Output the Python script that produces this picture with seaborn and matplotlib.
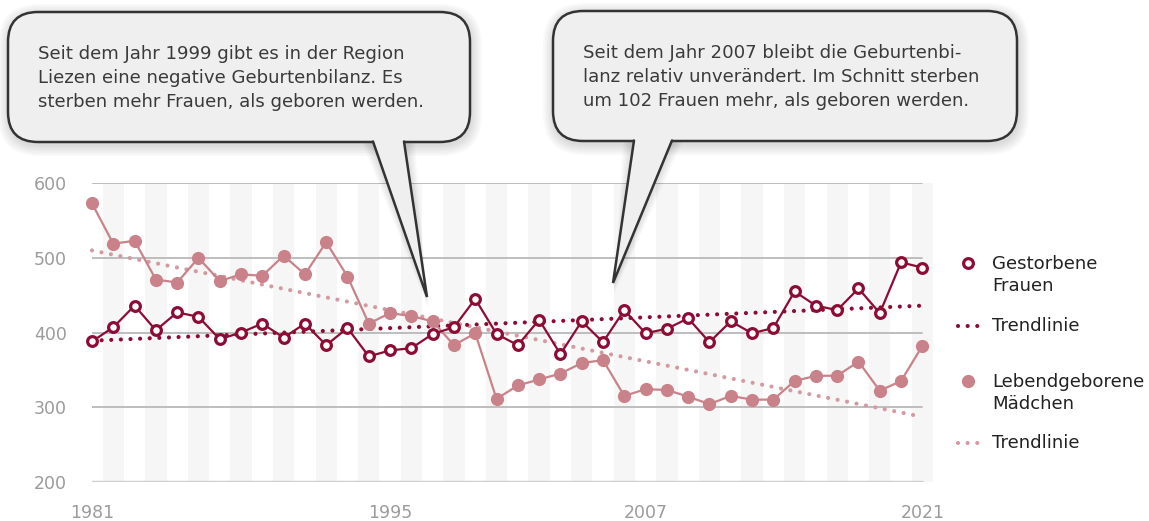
import numpy as np
import pandas as pd
import seaborn as sns
import matplotlib.pyplot as plt
from matplotlib.patches import FancyBboxPatch, Polygon

# Values, one point per year
tick_labels = ["1981", "1995", "2007", "2021"]
tick_index = [0, 14, 26, 39]
y_ticks = [200, 300, 400, 500, 600]

gestorbene_frauen = [388, 407, 436, 403, 427, 421, 391, 400, 412, 393,
                     412, 383, 406, 368, 376, 379, 398, 407, 445, 398,
                     383, 417, 371, 415, 387, 430, 399, 405, 419, 387,
                     415, 399, 406, 455, 436, 430, 459, 426, 494, 487]
lebendgeborene_maedchen = [573, 519, 523, 471, 467, 500, 469, 478, 476, 503,
                           478, 521, 475, 412, 426, 422, 415, 383, 399, 311,
                           329, 337, 345, 359, 363, 315, 324, 323, 314, 304,
                           315, 310, 310, 335, 342, 342, 361, 322, 335, 382]
# trend lines: start / end value
trend_frauen = [389, 436]
trend_maedchen = [510, 287]

text_links = ("Seit dem Jahr 1999 gibt es in der Region\n"
              "Liezen eine negative Geburtenbilanz. Es\n"
              "sterben mehr Frauen, als geboren werden.")
text_rechts = ("Seit dem Jahr 2007 bleibt die Geburtenbi-\n"
               "lanz relativ unverändert. Im Schnitt sterben\n"
               "um 102 Frauen mehr, als geboren werden.")

DARK = "#8c0c35"
PINK = "#c9828a"
PINK_TREND = "#d39aa1"
GREY = "#9b9b9b"
FS = 13.1

df = pd.DataFrame({
    "idx": np.arange(len(gestorbene_frauen)),
    "frauen": gestorbene_frauen,
    "maedchen": lebendgeborene_maedchen,
})
n = len(df)
trend_x = [0, n - 1]

sns.set_theme(style="white")
plt.rcParams["font.family"] = ["DejaVu Sans"]

W, H = 1149, 521
fig = plt.figure(figsize=(W / 100, H / 100), dpi=100)

# main axes: pixel box x 92..933, y 183..482
left, right, top, bottom = 92, 933, 183.3, 481.7
ax = fig.add_axes([left / W, 1 - bottom / H, (right - left) / W, (bottom - top) / H])
ax.set_xlim(0, n - 0.5)
ax.set_ylim(200, 600)

# alternating stripes
for i in range(1, n, 2):
    ax.axvspan(i - 0.5, i + 0.5, color="#f6f6f6", zorder=0, lw=0)

# grid lines
for v in y_ticks[1:]:
    ax.axhline(v, xmin=0, xmax=(n - 1) / (n - 0.5), color="#b3b3b3", lw=1.2, zorder=1)
ax.axhline(200, xmin=0, xmax=(n - 1) / (n - 0.5), color="#d0d0d0", lw=2.5, zorder=1)

dots = (0, (0.01, 2.3))
sns.lineplot(x=trend_x, y=trend_maedchen, ax=ax, color=PINK_TREND, lw=3,
             linestyle=dots, dash_capstyle="round", zorder=2, clip_on=False)
sns.lineplot(x=trend_x, y=trend_frauen, ax=ax, color=DARK, lw=3,
             linestyle=dots, dash_capstyle="round", zorder=3, clip_on=False)

sns.lineplot(data=df, x="idx", y="maedchen", ax=ax, color=PINK, lw=1.6,
             marker="o", ms=9.5, mec=PINK, mew=0, zorder=4, clip_on=False)
sns.lineplot(data=df, x="idx", y="frauen", ax=ax, color=DARK, lw=1.6,
             marker="o", ms=7, mfc="white", mec=DARK, mew=2.3, zorder=5, clip_on=False)

sns.despine(ax=ax, left=True, bottom=True)
ax.set_xlabel("")
ax.set_ylabel("")
ax.set_xticks(tick_index, tick_labels)
ax.set_yticks(y_ticks)
ax.tick_params(axis="both", length=0, labelsize=12.5, labelcolor=GREY)
ax.tick_params(axis="y", pad=18)
ax.tick_params(axis="x", pad=16)

# overlay in pixel coordinates for callouts and legend
ov = fig.add_axes([0, 0, 1, 1], zorder=3)
ov.set_xlim(0, W)
ov.set_ylim(H, 0)
ov.axis("off")
ov.patch.set_alpha(0)


def bubble(x0, y0, x1, y1, base, tip, text):
    r = 30
    # soft shadow
    for k in range(7):
        g = 1.5 + k * 1.6
        ov.add_patch(FancyBboxPatch((x0 - g + 1, y0 - g + 3), (x1 - x0) + 2 * g, (y1 - y0) + 2 * g,
                                    boxstyle=f"round,pad=0,rounding_size={r + g}",
                                    fc="black", ec="none", alpha=0.018, zorder=1))
        ov.add_patch(Polygon([(base[0] - g, y1), (tip[0] + 1, tip[1] + g), (base[1] + g, y1)],
                             closed=True, fc="black", ec="none", alpha=0.018, zorder=1))
    ov.add_patch(FancyBboxPatch((x0, y0), x1 - x0, y1 - y0,
                                boxstyle=f"round,pad=0,rounding_size={r}",
                                fc="#efefef", ec="#333333", lw=1.8, zorder=2))
    ov.add_patch(Polygon([(base[0], y1 - 3), tip, (base[1], y1 - 3)], closed=True,
                         fc="#efefef", ec="none", zorder=3))
    ov.plot([base[0], tip[0], base[1]], [y1 - 0.5, tip[1], y1 - 0.5], color="#333333",
            lw=1.8, solid_joinstyle="miter", zorder=4)
    ov.text(x0 + 30, y0 + 66, text, fontsize=FS, color="#3a3a3a",
            va="center", ha="left", linespacing=1.4, zorder=5)


bubble(8, 12, 470, 142, (373, 404), (427, 297), text_links)
bubble(553, 11, 1017, 141, (634, 672), (613, 283), text_rechts)

# legend
ov.plot([968], [263], marker="o", ms=7, mfc="white", mec=DARK, mew=2.3, ls="none")
ov.text(992, 275, "Gestorbene\nFrauen", fontsize=FS, color="#222222",
        va="center", ha="left", linespacing=1.25)
ov.plot([958, 982], [326, 326], color=DARK, lw=3, linestyle=dots, dash_capstyle="round")
ov.text(992, 326, "Trendlinie", fontsize=FS, color="#222222", va="center", ha="left")
ov.plot([968], [381], marker="o", ms=9.5, mfc=PINK, mec=PINK, mew=0, ls="none")
ov.text(992, 393, "Lebendgeborene\nMädchen", fontsize=FS, color="#222222",
        va="center", ha="left", linespacing=1.25)
ov.plot([958, 982], [443, 443], color=PINK_TREND, lw=3, linestyle=dots, dash_capstyle="round")
ov.text(992, 443, "Trendlinie", fontsize=FS, color="#222222", va="center", ha="left")

plt.savefig("out.png", dpi=100)
